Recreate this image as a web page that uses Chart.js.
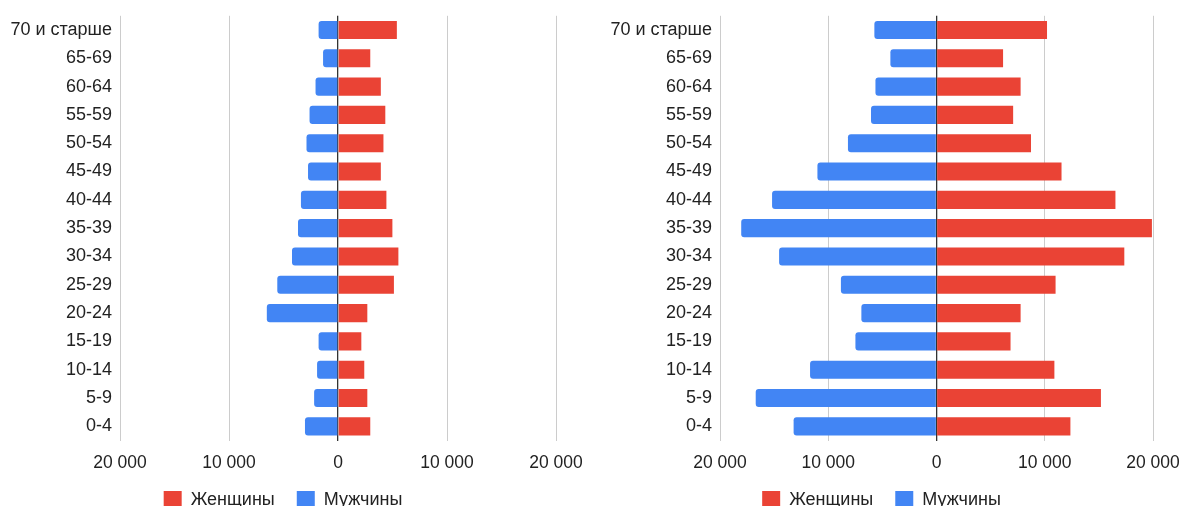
<!DOCTYPE html>
<html>
<head>
<meta charset="utf-8">
<script src="https://cdn.jsdelivr.net/npm/chart.js@4"></script>
<style>
html,body{margin:0;padding:0;background:#fff;overflow:hidden;width:1181px;height:506px;position:relative;}
.box{position:absolute;top:-3px;height:539px;}
#b1{left:0;width:597px;}
#b2{left:600px;width:594px;}
</style>
</head>
<body>
<div class="box" id="b1"><canvas id="c1"></canvas></div>
<div class="box" id="b2"><canvas id="c2"></canvas></div>
<script>
const categories = ['70 и старше','65-69','60-64','55-59','50-54','45-49','40-44','35-39','30-34','25-29','20-24','15-19','10-14','5-9','0-4'];
const xTicks = [-20000,-10000,0,10000,20000];

const leftWomen = [5400,2960,3930,4340,4170,3930,4440,4990,5540,5130,2690,2140,2410,2690,2960];
const leftMen   = [1780,1370,2060,2610,2890,2750,3400,3670,4220,5570,6530,1780,1920,2190,3030];

const rightWomen = [10210,6150,7770,7080,8730,11550,16530,19900,17350,11000,7770,6840,10890,15190,12370];
const rightMen   = [5740,4260,5640,6050,8180,11000,15190,18040,14540,8830,6940,7490,11680,16700,13200];

const RED = '#EA4335', BLUE = '#4285F4';
const FONT = "'Liberation Sans', Arial, Helvetica, sans-serif";
const LEGEND_SHIFT = 17;

function fmt(v){
  const s = String(Math.abs(v));
  return s.replace(/\B(?=(\d{3})+(?!\d))/g, ' ');
}

function makeChart(id, women, men, padRight){
  const chart = new Chart(document.getElementById(id), {
    type: 'bar',
    data: {
      labels: categories,
      datasets: [
        {label:'Женщины', data: women, backgroundColor: RED, borderWidth:0, borderRadius:0,
         barPercentage:0.64, categoryPercentage:1},
        {label:'Мужчины', data: men.map(v => -v), backgroundColor: BLUE, borderWidth:0,
         borderRadius:3, borderSkipped:'start', barPercentage:0.64, categoryPercentage:1}
      ]
    },
    options: {
      indexAxis: 'y',
      responsive: true,
      maintainAspectRatio: false,
      animation: false,
      layout: {padding: {left:10, right:padRight, top:0, bottom:0}},
      scales: {
        x: {
          stacked: true,
          min: -20000, max: 20000,
          afterBuildTicks: s => { s.ticks = xTicks.map(v => ({value:v})); },
          grid: {
            color: c => (c.tick && c.tick.value === 0) ? '#333333' : '#cccccc',
            lineWidth: c => (c.tick && c.tick.value === 0) ? 1.3 : 1,
            drawTicks: false
          },
          border: {display:false},
          ticks: {
            callback: v => fmt(v),
            color: '#222',
            font: {family: FONT, size: 17.5, lineHeight: 1},
            padding: 14,
            maxRotation: 0
          }
        },
        y: {
          stacked: true,
          grid: {display:false, drawTicks:false},
          border: {display:false},
          afterFit: s => { s.width = 110; },
          ticks: {
            color: '#222',
            font: {family: FONT, size: 18},
            padding: 8,
            autoSkip: false
          }
        }
      },
      plugins: {
        legend: {
          position: 'bottom',
          labels: {
            boxWidth: 18, boxHeight: 18,
            padding: 22,
            color: '#222',
            font: {family: FONT, size: 18}
          }
        },
        tooltip: {enabled:false}
      }
    }
  });
  const lg = chart.legend;
  if (lg) {
    const orig = lg.draw;
    lg.draw = function(){
      this.top -= LEGEND_SHIFT; this.bottom -= LEGEND_SHIFT;
      orig.apply(this, arguments);
      this.top += LEGEND_SHIFT; this.bottom += LEGEND_SHIFT;
    };
    chart.draw();
  }
  return chart;
}

makeChart('c1', leftWomen, leftMen, 41);
makeChart('c2', rightWomen, rightMen, 41);
</script>
</body>
</html>
